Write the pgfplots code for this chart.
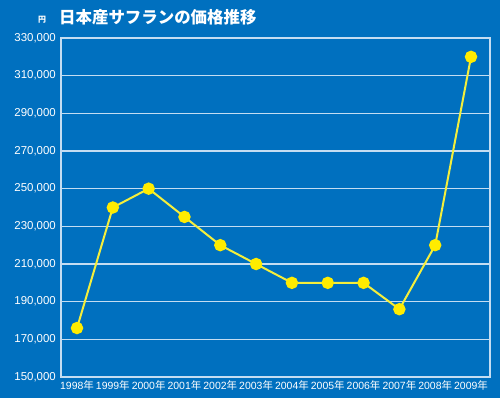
\documentclass[border=0pt]{standalone}
\usepackage{fontspec}
\setmainfont{Liberation Sans}
\newfontfamily\cjk{Noto Sans CJK JP}
\usepackage{pgfplots}
\pgfplotsset{compat=1.18}
\definecolor{bg}{HTML}{0070BF}
\definecolor{gridc}{HTML}{C4DDF2}
\definecolor{ylw}{HTML}{FFEC00}
\definecolor{ylwl}{HTML}{F4EE3C}
\begin{document}
\begin{tikzpicture}[x=1bp,y=1bp]
\fill[bg] (-61,-21) rectangle (439,377);
\begin{axis}[
  at={(0,0)}, anchor=south west,
  scale only axis, width=429bp, height=339bp,
  xmin=-0.447, xmax=11.53,
  ymin=150000, ymax=330000,
  scaled y ticks=false,
  axis line style={gridc, line width=1.2pt},
  ytick={150000,170000,190000,210000,230000,250000,270000,290000,310000,330000},
  yticklabels={{150,000},{170,000},{190,000},{210,000},{230,000},{250,000},{270,000},{290,000},{310,000},{330,000}},
  xtick={0,...,11},
  xticklabels={{1998\cjk 年},{1999\cjk 年},{2000\cjk 年},{2001\cjk 年},{2002\cjk 年},{2003\cjk 年},{2004\cjk 年},{2005\cjk 年},{2006\cjk 年},{2007\cjk 年},{2008\cjk 年},{2009\cjk 年}},
  major tick length=0pt,
  ymajorgrids, grid style={gridc, line width=1.2pt},
  yticklabel style={white, font=\fontsize{11.5}{12}\selectfont, xshift=-3bp, inner sep=2pt},
  xticklabel style={white, font=\fontsize{10.5}{12}\selectfont, yshift=-1bp, inner sep=2pt},
  clip=false,
]
\addplot[ylwl, line width=2bp, mark=*, mark size=5.2bp, mark options={fill=ylw, draw=ylw}] coordinates {
(0,176000) (1,240000) (2,250000) (3,235000) (4,220000) (5,210000)
(6,200000) (7,200000) (8,200000) (9,186000) (10,220000) (11,320000)
};
\end{axis}
\node[white, inner sep=0pt, font=\cjk\bfseries\fontsize{8}{9}\selectfont] at (-19,357) {円};
\node[white, inner sep=0pt, font=\cjk\bfseries\fontsize{16.5}{18}\selectfont, anchor=west] at (-2,360) {日本産サフランの価格推移};
\pgfresetboundingbox
\useasboundingbox (-61,-21) rectangle (439,377);
\end{tikzpicture}
\end{document}
